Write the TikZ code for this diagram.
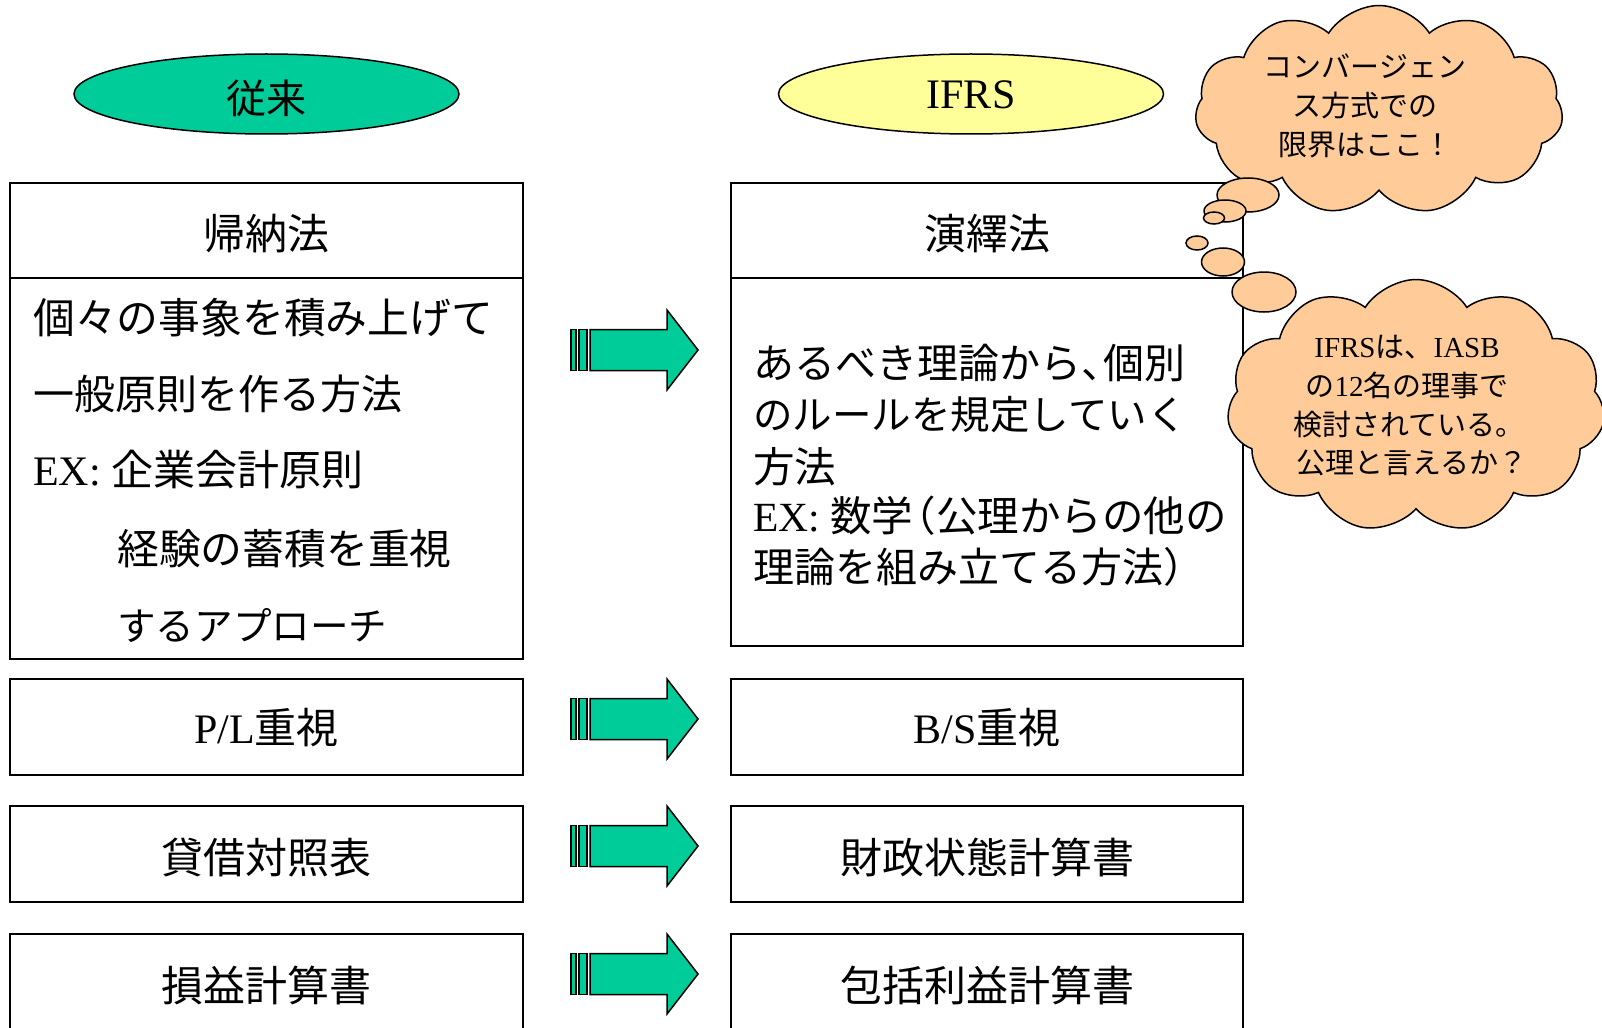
\documentclass[tikz,border=0pt]{standalone}
\usepackage{fontspec}
\setmainfont{Liberation Serif}
\newfontfamily\jp{Noto Sans CJK JP}
\usetikzlibrary{shapes.geometric,shapes.symbols}
\definecolor{tealgreen}{RGB}{0,204,153}
\definecolor{paleyellow}{RGB}{255,255,153}
\definecolor{peach}{RGB}{255,204,153}
\newcommand\tms[1]{{\rmfamily #1}}
\tikzset{
  frame/.style={draw=black, line width=2pt},
  oval/.style={ellipse, draw=black, line width=1.5pt, minimum width=385pt, minimum height=80pt, inner sep=0pt},
  headtxt/.style={inner sep=0pt, font=\jp\fontsize{42}{50}\selectfont, text height=34.9pt, text depth=2.9pt},
  bodytxt/.style={anchor=west, inner sep=0pt, font=\jp\fontsize{#1}{#1}\selectfont, text height=34pt, text depth=3pt},
  cloudtxt/.style={inner sep=0pt, font=\jp\fontsize{29}{34}\selectfont, text height=24pt, text depth=2pt},
  puff/.style={draw=black, fill=peach, line width=1.5pt},
  thought/.style={cloud, cloud puffs=11, cloud puff arc=115, cloud ignores aspect, puff, inner sep=0pt},
  arrowpart/.style={draw=black, fill=tealgreen, line width=1.5pt, line join=miter},
  bigarrow/.pic={
    \path[arrowpart] (571,-20.5) rectangle (576,20.5);
    \path[arrowpart] (579,-20.5) rectangle (587,20.5);
    \path[arrowpart] (590,-20.5) -- (667,-20.5) -- (667,-40) -- (698,0)
      -- (667,40) -- (667,20.5) -- (590,20.5) -- cycle;
  }
}
\begin{document}
\begin{tikzpicture}[x=1pt,y=-1pt]
\useasboundingbox[fill=white] (0,0) rectangle (1602,1027);

% header ellipses
\node[oval, fill=tealgreen, font=\jp\fontsize{40}{48}\selectfont, text height=43pt, text depth=3pt] (old) at (266.5,94) {従来};
\node[oval, fill=paleyellow, font=\fontsize{42}{50}\selectfont, text height=29.8pt, text depth=0pt] (ifrs) at (971,94) {IFRS};

% boxes
\draw[frame] (10,183) rectangle (523,659);
\draw[frame] (10,278) -- (523,278);
\draw[frame] (731,183) rectangle (1243,646);
\draw[frame] (731,278) -- (1243,278);
\draw[frame] (10,679) rectangle (523,775);
\draw[frame] (731,679) rectangle (1243,775);
\draw[frame] (10,806) rectangle (523,902);
\draw[frame] (731,806) rectangle (1243,902);
\draw[frame] (10,934) rectangle (523,1060);
\draw[frame] (731,934) rectangle (1243,1060);

% headings
\node[headtxt] (kino) at (266.5,233) {帰納法};
\node[headtxt] (eneki) at (987,233) {演繹法};
\node[headtxt] (pl) at (266.5,727) {\tms{P/L}重視};
\node[headtxt] (bs) at (987,727) {\tms{B/S}重視};
\node[headtxt] (taishaku) at (266.5,857) {貸借対照表};
\node[headtxt] (zaisei) at (987,857) {財政状態計算書};
\node[headtxt] (soneki) at (266.5,985) {損益計算書};
\node[headtxt] (hokatsu) at (987,985) {包括利益計算書};

% left body
\node[bodytxt=41.8] (l1) at (33,318) {個々の事象を積み上げて};
\node[bodytxt=41] (l2) at (33,394) {一般原則を作る方法};
\node[bodytxt=42] (l3) at (33,470) {\tms{EX:\ }企業会計原則};
\node[bodytxt=41.8] (l4) at (117,549) {経験の蓄積を重視};
\node[bodytxt=38.6] (l5) at (117,625) {するアプローチ};

% right body
\node[bodytxt=41] (r1) at (753,363) {あるべき理論から、\kern-0.45em 個別};
\node[bodytxt=39.5] (r2) at (753,414) {のルールを規定していく};
\node[bodytxt=41.6] (r3) at (753,467) {方法};
\node[bodytxt=41.5] (r4) at (753,516) {\tms{EX:\ }数学\kern-0.45em（公理からの他の};
\node[bodytxt=41] (r5) at (753,567) {理論を組み立てる方法）};

% arrows
\pic (a1) at (0,350) {bigarrow};
\pic (a2) at (0,719) {bigarrow};
\pic (a3) at (0,846) {bigarrow};
\pic (a4) at (0,974) {bigarrow};

% clouds
\node[thought, minimum width=368pt, minimum height=209pt] (cloudA) at (1379,110) {};
\node[thought, minimum width=378pt, minimum height=253pt] (cloudB) at (1416,406) {};

% thought bubbles
\draw[puff] (1248,195) ellipse [x radius=31pt, y radius=17pt];
\draw[puff] (1225,211) ellipse [x radius=21pt, y radius=11pt];
\draw[puff] (1214,218) ellipse [x radius=10.5pt, y radius=6pt];
\draw[puff] (1197,243) ellipse [x radius=11pt, y radius=7pt];
\draw[puff] (1223,262) ellipse [x radius=21.5pt, y radius=14pt];
\draw[puff] (1264,292) ellipse [x radius=32pt, y radius=20pt];

% cloud texts
\node[cloudtxt] (ca1) at (1365,67) {コンバージェン};
\node[cloudtxt] (ca2) at (1365,106) {ス方式での};
\node[cloudtxt] (ca3) at (1365,145) {限界はここ！};
\node[cloudtxt] (cb1) at (1407,346) {\tms{IFRS}は、\tms{IASB}};
\node[cloudtxt] (cb2) at (1407,385) {の\tms{12}名の理事で};
\node[cloudtxt] (cb3) at (1409,424) {検討されている。};
\node[cloudtxt] (cb4) at (1412,462) {公理と言えるか？};
\end{tikzpicture}
\end{document}
